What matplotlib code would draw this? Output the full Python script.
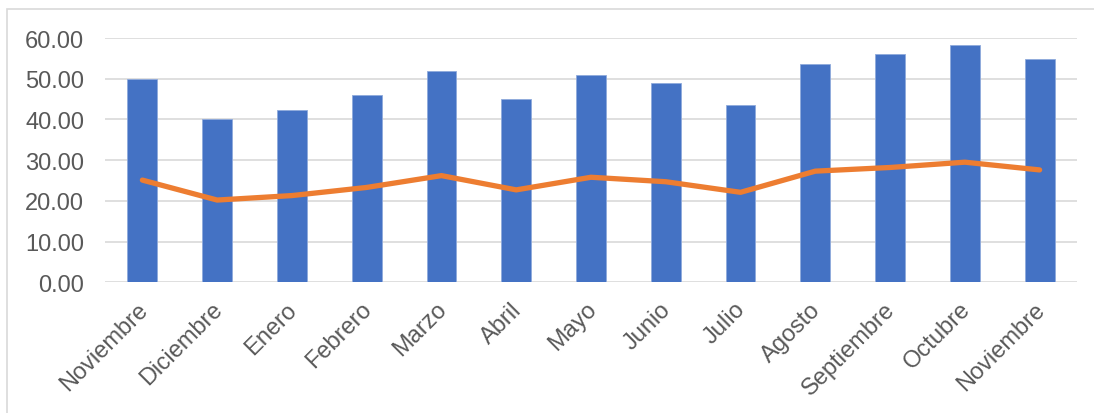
import matplotlib
matplotlib.use("Agg")
import matplotlib.pyplot as plt
from matplotlib.patches import Rectangle
from matplotlib.transforms import ScaledTranslation

months = ["Noviembre", "Diciembre", "Enero", "Febrero", "Marzo", "Abril", "Mayo",
          "Junio", "Julio", "Agosto", "Septiembre", "Octubre", "Noviembre"]
bar_values = [50.0, 40.0, 42.4, 46.1, 51.8, 45.0, 51.0, 49.0, 43.5, 53.7, 56.1, 58.4, 54.8]
line_values = [25.1, 20.2, 21.3, 23.3, 26.2, 22.7, 25.8, 24.7, 22.1, 27.3, 28.2, 29.5, 27.6]
y_ticks = [0, 10, 20, 30, 40, 50, 60]

plt.rcParams["font.family"] = ["Liberation Sans", "DejaVu Sans"]

W, H = 1094, 414
fig = plt.figure(figsize=(W / 100, H / 100), dpi=100)
ax = fig.add_axes([105 / W, 1 - 283.3 / H, (1077 - 105) / W, (283.3 - 39) / H])

x = list(range(len(months)))
ax.bar(x, bar_values, width=0.4, color="#4472C4", edgecolor="#8FAADC",
       linewidth=0.6, zorder=2)
ax.plot(x, line_values, color="#ED7D31", linewidth=3.8,
        solid_capstyle="round", solid_joinstyle="round", zorder=3)

ax.set_xlim(-0.5, len(months) - 0.5)
ax.set_ylim(0, 60)
ax.set_yticks(y_ticks)
ax.set_yticklabels([f"{v:.2f}" for v in y_ticks])
ax.yaxis.grid(True, color="#D9D9D9", linewidth=1.2)
ax.set_axisbelow(True)
for s in ax.spines.values():
    s.set_visible(False)

ax.set_xticks(x)
ax.set_xticklabels(months, rotation=45, ha="right", va="top",
                   rotation_mode="anchor")
ax.tick_params(axis="both", length=0, labelsize=17, labelcolor="#595959")
ax.tick_params(axis="y", pad=15)
ax.tick_params(axis="x", pad=12)

# nudge the slanted month labels slightly left
shift = ScaledTranslation(-6 / 100, 1 / 100, fig.dpi_scale_trans)
for lbl in ax.get_xticklabels():
    lbl.set_transform(lbl.get_transform() + shift)

# chart frame
fig.patches.append(Rectangle((7 / W, -0.1), 1.2, 1 - 10 / H + 0.1,
                             transform=fig.transFigure, fill=False,
                             edgecolor="#D9D9D9", linewidth=1.2))

fig.savefig("out.png", dpi=100, facecolor="white")
